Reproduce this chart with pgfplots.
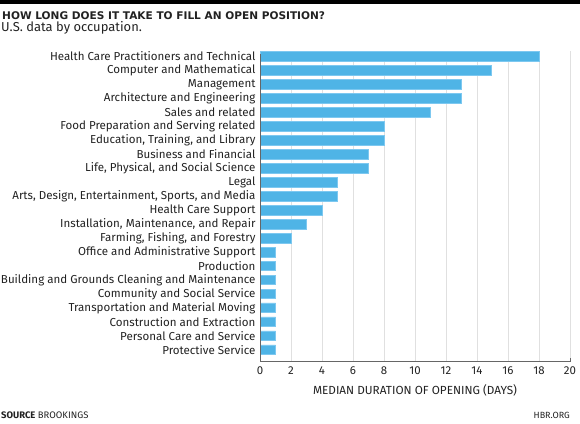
\documentclass[border=0pt]{standalone}
\usepackage{pgfplots}
\pgfplotsset{compat=1.18}
\usepackage{fontspec}
\setmainfont{Fira Sans}
\newfontfamily\titlefont{DejaVu Sans}
\definecolor{barblue}{RGB}{79,180,230}
\definecolor{baredge}{RGB}{125,200,240}
\definecolor{txt}{RGB}{34,34,34}
\definecolor{gridgray}{RGB}{224,224,224}
\begin{document}
\begin{tikzpicture}
  \path[use as bounding box] (0,0) rectangle (580bp,424bp);
  % top rule
  \fill[black] (0,419.5bp) rectangle (580bp,424bp);
  \node[anchor=base west, inner sep=0, text=txt, font=\titlefont\fontsize{10.6}{12}\selectfont\bfseries] at (2bp,404.5bp) {HOW LONG DOES IT TAKE TO FILL AN OPEN POSITION?};
  \node[anchor=base west, inner sep=0, text=txt, font=\fontsize{13}{15}\selectfont] at (1bp,392.5bp) {U.S. data by occupation.};

  \begin{axis}[
    at={(260bp,63bp)}, anchor=south west,
    scale only axis, width=310bp, height=310bp,
    xbar, bar width=0.69,
    xmin=0, xmax=20,
    ymin=-0.39, ymax=21.81, y dir=reverse,
    axis line style={draw=none},
    xtick={0,2,...,20},
    ytick={0,...,21},
    yticklabels={
      Health Care Practitioners and Technical,
      Computer and Mathematical,
      Management,
      Architecture and Engineering,
      Sales and related,
      Food Preparation and Serving related,
      {Education, Training, and Library},
      Business and Financial,
      {Life, Physical, and Social Science},
      Legal,
      {Arts, Design, Entertainment, Sports, and Media},
      Health Care Support,
      {Installation, Maintenance, and Repair},
      {Farming, Fishing, and Forestry},
      Office and Administrative Support,
      Production,
      Building and Grounds Cleaning and Maintenance,
      Community and Social Service,
      Transportation and Material Moving,
      Construction and Extraction,
      Personal Care and Service,
      Protective Service},
    major tick length=0,
    xmajorgrids, grid style={gridgray, line width=0.8bp},
    yticklabel style={text=txt, font=\fontsize{11.6}{13}\selectfont, xshift=-1bp},
    xticklabel style={text=txt, font=\fontsize{11.5}{13}\selectfont, yshift=-2bp},
    /pgf/number format/assume math mode=true,
    after end axis/.code={
      \draw[gray!80!black, line width=0.9bp] (axis cs:0,-0.39) ++(0,-3bp) -- (axis cs:0,21.81) -- (axis cs:20,21.81) -- ++(0,3bp);
    },
  ]
  \addplot[fill=barblue, draw=baredge, line width=0.5bp] coordinates {
    (18,0) (14.9,1) (13,2) (13,3) (11,4) (8,5) (8,6) (7,7) (7,8) (5,9) (5,10)
    (4,11) (3,12) (2,13) (1,14) (1,15) (1,16) (1,17) (1,18) (1,19) (1,20) (1,21)
  };
  \end{axis}

  \node[anchor=base, inner sep=0, text=txt, font=\fontsize{11.8}{13}\selectfont] at (415bp,30bp) {MEDIAN DURATION OF OPENING (DAYS)};
  \node[anchor=base west, inner sep=0, text=txt, font=\fontsize{9.5}{11}\selectfont] at (1bp,5.7bp) {\textbf{SOURCE} BROOKINGS};
  \node[anchor=base east, inner sep=0, text=txt, font=\fontsize{9}{11}\selectfont] at (570bp,5.7bp) {HBR.ORG};
\end{tikzpicture}
\end{document}
